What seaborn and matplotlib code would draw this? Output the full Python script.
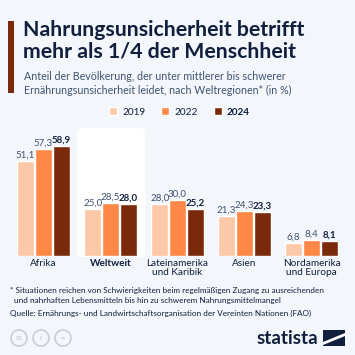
import numpy as np
import pandas as pd
import matplotlib
matplotlib.use('Agg')
import matplotlib.pyplot as plt
import seaborn as sns
from matplotlib.patches import FancyBboxPatch, Rectangle, Circle, Polygon

# ---------------- Data ----------------
regions = ["Afrika", "Weltweit", "Lateinamerika\nund Karibik", "Asien", "Nordamerika\nund Europa"]
years = ["2019", "2022", "2024"]
v2019 = [51.1, 25.0, 28.0, 21.3, 6.8]
v2022 = [57.3, 28.5, 30.0, 24.3, 8.4]
v2024 = [58.9, 28.0, 25.2, 23.3, 8.1]

df = pd.DataFrame({
    "region": regions * 3,
    "year": [y for y in years for _ in regions],
    "value": v2019 + v2022 + v2024,
})

colors = ["#fdc8a8", "#ff8846", "#7a2a0a"]
bg = "#f3f6fa"
navy = "#0f1f3d"
grey = "#3f5270"

sns.set_theme(style="white")
plt.rcParams['font.family'] = ['Lato', 'DejaVu Sans']

W = 355
fig = plt.figure(figsize=(3.55, 3.55), dpi=100, facecolor=bg)

def px(x, y_top):
    return x / W, 1 - y_top / W

# Weltweit highlight panel
panel = FancyBboxPatch((77 / W, 98 / W), 68 / W, 129 / W,
                       boxstyle="round,pad=0,rounding_size=0.015",
                       transform=fig.transFigure, facecolor="white",
                       edgecolor="none", zorder=-1)
fig.patches.append(panel)

ax = fig.add_axes([10 / W, 99 / W, 335 / W, 130.7 / W])
ax.set_facecolor("none")
sns.barplot(data=df, x="region", y="value", hue="year", palette=colors,
            width=0.8, gap=0.08, ax=ax, legend=True, saturation=1)
ax.set_ylim(0, 70)
ax.set_xlim(-0.5, 4.5)
for s in ax.spines.values():
    s.set_visible(False)
ax.set_yticks([])
ax.set_xlabel("")
ax.set_ylabel("")
ax.tick_params(axis="x", length=0, pad=2, labelsize=7.2, labelcolor=navy)
for t in ax.get_xticklabels():
    t.set_linespacing(1.0)
    if t.get_text() == "Weltweit":
        t.set_fontweight("bold")

for i, cont in enumerate(ax.containers):
    labs = [f"{v:.1f}".replace(".", ",") for v in cont.datavalues]
    if i == 2:
        ax.bar_label(cont, labels=labs, padding=1, fontsize=7, color=navy,
                     fontweight="bold")
    else:
        ax.bar_label(cont, labels=labs, padding=1, fontsize=7, color=grey)

# legend
h, l = ax.get_legend_handles_labels()
ax.get_legend().remove()
leg = fig.legend(h, l, loc="center", bbox_to_anchor=(0.505, 1 - 112 / W), ncol=3,
                 frameon=False, fontsize=7.2, handlelength=0.8, handleheight=0.8,
                 handletextpad=0.5, columnspacing=1.6)
for t in leg.get_texts():
    t.set_color(navy)
leg.get_texts()[2].set_fontweight("bold")

# title block
fig.patches.append(Rectangle((8 / W, 1 - 93 / W), 6 / W, 72 / W,
                             transform=fig.transFigure, facecolor="#7a2a0a",
                             edgecolor="none"))
fig.text(*px(23, 30), "Nahrungsunsicherheit betrifft", fontsize=15.3,
         fontweight="bold", color=navy, va="center")
fig.text(*px(23, 52), "mehr als 1/4 der Menschheit", fontsize=15.3,
         fontweight="bold", color=navy, va="center")
fig.text(*px(24, 77), "Anteil der Bevölkerung, der unter mittlerer bis schwerer",
         fontsize=7.7, color=grey, va="center")
fig.text(*px(24, 90), "Ernährungsunsicherheit leidet, nach Weltregionen* (in %)",
         fontsize=7.7, color=grey, va="center")

# footnotes
fs = 5.9
fig.text(*px(10, 290), "* Situationen reichen von Schwierigkeiten beim regelmäßigen Zugang zu ausreichenden",
         fontsize=fs, color=navy, va="center")
fig.text(*px(14, 301), "und nahrhaften Lebensmitteln bis hin zu schwerem Nahrungsmittelmangel",
         fontsize=fs, color=navy, va="center")
fig.text(*px(10, 313), "Quelle: Ernährungs- und Landwirtschaftsorganisation der Vereinten Nationen (FAO)",
         fontsize=fs, color=navy, va="center")

# cc icons
for cx, s in [(19, "cc"), (41, "i"), (63, "=")]:
    fig.patches.append(Circle((cx / W, 1 - 338 / W), 8 / W, transform=fig.transFigure,
                              facecolor="none", edgecolor="#c9ced6", lw=1.2))
    fig.text(*px(cx, 338), s, fontsize=5.5, color="#c9ced6", ha="center",
             va="center", fontweight="bold")

# statista logo
fig.text(*px(318, 338), "statista", fontsize=13.5, fontweight="bold", color=navy,
         ha="right", va="center")
fig.patches.append(Rectangle((323 / W, 1 - 346 / W), 22 / W, 16 / W,
                             transform=fig.transFigure, facecolor=navy,
                             edgecolor="none"))
fig.patches.append(Polygon([(323 / W, 1 - 342 / W), (345 / W, 1 - 333 / W),
                            (345 / W, 1 - 336 / W), (323 / W, 1 - 345 / W)],
                           closed=True, transform=fig.transFigure,
                           facecolor="white", edgecolor="none"))

fig.savefig("out.png", dpi=100, facecolor=bg)
